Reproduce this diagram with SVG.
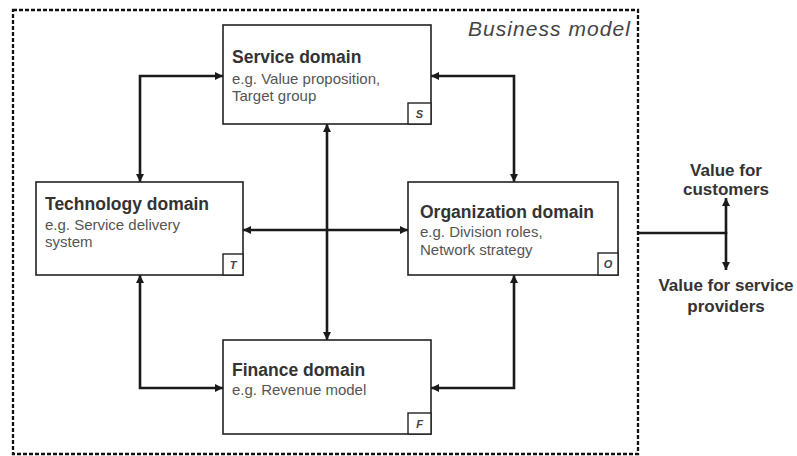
<svg xmlns="http://www.w3.org/2000/svg" width="797" height="456" viewBox="0 0 797 456">
<style>
.box{fill:#fff;stroke:#222;stroke-width:1.6}
.tag{fill:#fff;stroke:#222;stroke-width:1.4}
.title{font-family:"Liberation Sans",Arial,sans-serif;font-weight:bold;font-size:17.5px;fill:#333}
.sub{font-family:"Liberation Sans",Arial,sans-serif;font-size:15px;fill:#555}
.letter{font-family:"Liberation Sans",Arial,sans-serif;font-weight:bold;font-style:italic;font-size:11px;fill:#444;text-anchor:middle}
.con{fill:none;stroke:#1a1a1a;stroke-width:2.6;marker-start:url(#ah);marker-end:url(#ah)}
.one{fill:none;stroke:#1a1a1a;stroke-width:2.6;marker-end:url(#ah)}
.plain{fill:none;stroke:#1a1a1a;stroke-width:2.6}
.out{font-family:"Liberation Sans",Arial,sans-serif;font-weight:bold;font-size:17px;fill:#333;text-anchor:middle}
</style>
<defs>
<marker id="ah" viewBox="0 0 10 10" refX="10" refY="5" markerWidth="9" markerHeight="8" markerUnits="userSpaceOnUse" orient="auto-start-reverse">
<path d="M0,0 L10,5 L0,10 z" fill="#1a1a1a"/>
</marker>
</defs>
<rect x="0" y="0" width="797" height="456" fill="#fff"/>
<g id="business-model">
<rect x="13" y="10" width="625" height="444" fill="none" stroke="#111" stroke-width="2.3" stroke-dasharray="4,2"/>
<text x="630" y="36" text-anchor="end" font-family="Liberation Sans,Arial,sans-serif" font-style="italic" font-size="21" fill="#444" textLength="162" lengthAdjust="spacing">Business model</text>
</g>
<g id="connectors">
<path class="con" d="M140,182 V76 H223"/>
<path class="con" d="M431,76 H514 V182"/>
<path class="con" d="M140,275 V388 H223"/>
<path class="con" d="M514,275 V388 H431"/>
<path class="con" d="M327,124 V340"/>
<path class="con" d="M243,230 H408"/>
<path class="plain" d="M638,233 H726"/>
<path class="one" d="M726,234 V198"/>
<path class="one" d="M726,232 V270"/>
</g>
<g id="service">
<rect class="box" x="223" y="25" width="208" height="99"/>
<rect class="tag" x="408" y="103" width="23" height="21"/>
<text class="letter" x="419.5" y="118">S</text>
<text class="title" x="232" y="63">Service domain</text>
<text class="sub" x="232" y="84">e.g. Value proposition,</text>
<text class="sub" x="232" y="101">Target group</text>
</g>
<g id="technology">
<rect class="box" x="36" y="182" width="207" height="93"/>
<rect class="tag" x="223" y="254" width="20" height="21"/>
<text class="letter" x="233" y="269">T</text>
<text class="title" x="45" y="210">Technology domain</text>
<text class="sub" x="45" y="230">e.g. Service delivery</text>
<text class="sub" x="45" y="247">system</text>
</g>
<g id="organization">
<rect class="box" x="408" y="182" width="210" height="93"/>
<rect class="tag" x="598" y="253" width="20" height="22"/>
<text class="letter" x="608" y="268">O</text>
<text class="title" x="420" y="218">Organization domain</text>
<text class="sub" x="420" y="237">e.g. Division roles,</text>
<text class="sub" x="420" y="255">Network strategy</text>
</g>
<g id="finance">
<rect class="box" x="223" y="340" width="208" height="94"/>
<rect class="tag" x="408" y="413" width="23" height="21"/>
<text class="letter" x="419.5" y="428">F</text>
<text class="title" x="232" y="376">Finance domain</text>
<text class="sub" x="232" y="395">e.g. Revenue model</text>
</g>
<g id="value-customers">
<text class="out" x="726" y="176">Value for</text>
<text class="out" x="726" y="195">customers</text>
</g>
<g id="value-providers">
<text class="out" x="726" y="291">Value for service</text>
<text class="out" x="726" y="312">providers</text>
</g>
</svg>
